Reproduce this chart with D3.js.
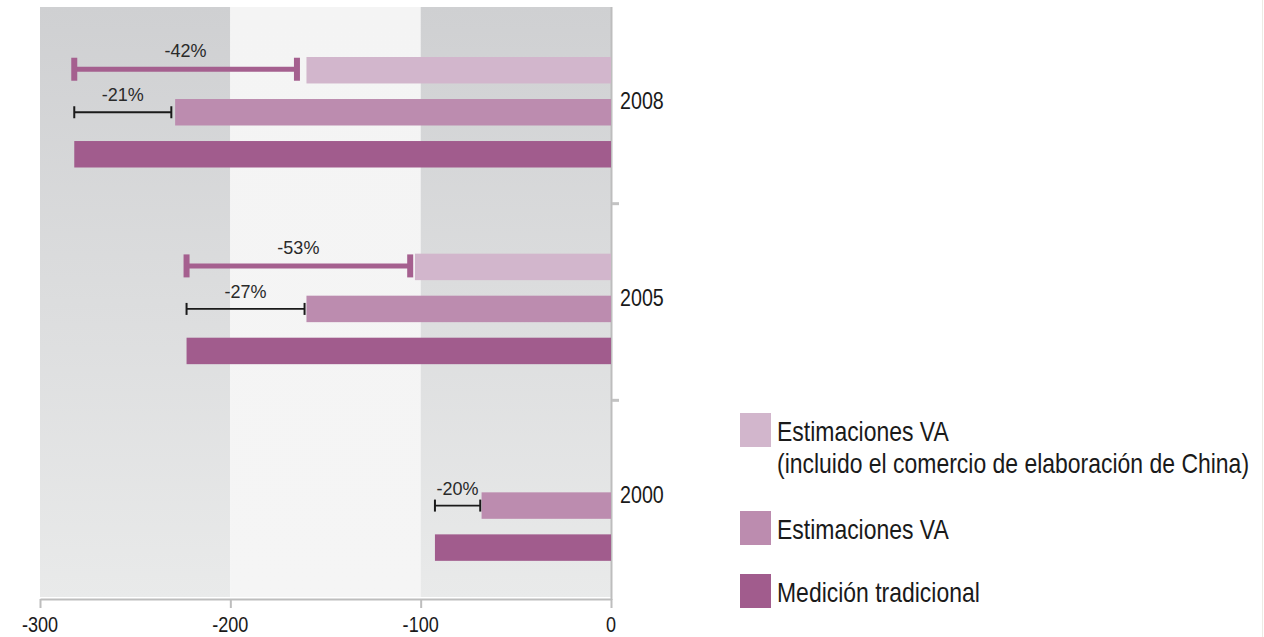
<!DOCTYPE html>
<html>
<head>
<meta charset="utf-8">
<script src="https://cdn.jsdelivr.net/npm/d3@7"></script>
<style>
  html, body { margin: 0; padding: 0; background: #ffffff; }
  svg { display: block; }
</style>
</head>
<body>
<svg id="chart" width="1264" height="637"></svg>
<script>
// ---------------- DATA ----------------
const years = ["2008", "2005", "2000"];
const seriesKeys = ["vaChina", "va", "traditional"];
const vaChina = [-160, -103, null];          // Estimaciones VA (incluido el comercio de elaboración de China)
const va = [-229, -160, -68];                // Estimaciones VA
const traditional = [-282, -223, -92.5];     // Medición tradicional
const vaChinaRangeEnd = [-165, -105.5, null];
const vaRangeEnd = [-231, -161, -68.7];
const vaChinaPct = ["-42%", "-53%", null];
const vaPct = ["-21%", "-27%", "-20%"];
const xTicks = [-300, -200, -100, 0];
const legendLabels = [
  ["Estimaciones VA", "(incluido el comercio de elaboración de China)"],
  ["Estimaciones VA"],
  ["Medición tradicional"]
];

// ---------------- STYLE ----------------
const colors = { vaChina: "#d2b6cc", va: "#bc8caf", traditional: "#a15c8d" };
const W = 1264, H = 637;
const plot = { left: 40, right: 611, top: 7, bottom: 597 };

// narrow font detection
const ctx = document.createElement("canvas").getContext("2d");
ctx.font = '28px "Liberation Sans Narrow", monospace';
const w1 = ctx.measureText("Estimaciones VA").width;
ctx.font = '28px monospace';
const w2 = ctx.measureText("Estimaciones VA").width;
const narrowOK = Math.abs(w1 - w2) > 0.5;

function narrowText(g, x, y, txt, size, anchor) {
  const t = g.append("text").text(txt)
    .attr("font-size", size)
    .attr("text-anchor", anchor || "start")
    .attr("fill", "#1a1a1a");
  if (narrowOK) {
    t.attr("font-family", '"Liberation Sans Narrow", "Arial Narrow", sans-serif')
     .attr("x", x).attr("y", y);
  } else {
    t.attr("font-family", '"Liberation Sans", Arial, sans-serif')
     .attr("transform", `translate(${x},${y}) scale(0.82,1)`);
  }
  return t;
}

const svg = d3.select("#chart");

// scales
const x = d3.scaleLinear().domain([-300, 0]).range([plot.left, plot.right]);
const yGroup = d3.scaleBand().domain(years).range([plot.top, plot.bottom]);
const yInner = d3.scaleBand().domain(seriesKeys).range([50, 50 + 110.5]).paddingInner(0.37);

// gradients
const defs = svg.append("defs");
const gGray = defs.append("linearGradient").attr("id", "gray").attr("x1", 0).attr("y1", 0).attr("x2", 0).attr("y2", 1);
gGray.append("stop").attr("offset", "0%").attr("stop-color", "#cfd0d2");
gGray.append("stop").attr("offset", "100%").attr("stop-color", "#e9eaea");
const gLight = defs.append("linearGradient").attr("id", "light").attr("x1", 0).attr("y1", 0).attr("x2", 0).attr("y2", 1);
gLight.append("stop").attr("offset", "0%").attr("stop-color", "#f4f4f4");
gLight.append("stop").attr("offset", "100%").attr("stop-color", "#f5f5f5");

// background bands between ticks
const bands = d3.pairs(xTicks);
svg.append("g").selectAll("rect").data(bands).join("rect")
  .attr("x", d => x(d[0]))
  .attr("y", plot.top)
  .attr("width", d => x(d[1]) - x(d[0]))
  .attr("height", plot.bottom - plot.top)
  .attr("fill", (d, i) => i % 2 === 0 ? "url(#gray)" : "url(#light)");

// right border (y axis at 0)
svg.append("line")
  .attr("x1", x(0) + 0.5).attr("x2", x(0) + 0.5)
  .attr("y1", plot.top).attr("y2", plot.bottom + 3)
  .attr("stroke", "#bdbdbd").attr("stroke-width", 2);

// group separator ticks on right
const sepYs = years.slice(1).map(y => yGroup(y));
svg.append("g").selectAll("line").data(sepYs).join("line")
  .attr("x1", x(0) + 1).attr("x2", x(0) + 8)
  .attr("y1", d => d).attr("y2", d => d)
  .attr("stroke", "#c3c3c3").attr("stroke-width", 3);

// x axis
const xAxis = d3.axisBottom(x).tickValues(xTicks).tickSize(9).tickSizeOuter(0);
const ax = svg.append("g").attr("transform", `translate(0,${plot.bottom + 2})`).call(xAxis);
ax.select(".domain").attr("stroke", "#bdbdbd").attr("stroke-width", 2);
ax.selectAll(".tick line").attr("stroke", "#bdbdbd").attr("stroke-width", 2);
ax.selectAll(".tick text").remove();
xTicks.forEach(v => {
  narrowText(svg, x(v), 632, String(v), 22, "middle");
});

// bars
const rows = years.map((yr, i) => ({
  year: yr,
  vaChina: vaChina[i], va: va[i], traditional: traditional[i],
  vaChinaEnd: vaChinaRangeEnd[i], vaEnd: vaRangeEnd[i],
  vaChinaPct: vaChinaPct[i], vaPct: vaPct[i]
}));

const barData = [];
rows.forEach(r => seriesKeys.forEach(k => {
  if (r[k] != null) barData.push({ year: r.year, key: k, value: r[k] });
}));

svg.append("g").selectAll("rect").data(barData).join("rect")
  .attr("x", d => x(d.value))
  .attr("y", d => yGroup(d.year) + yInner(d.key))
  .attr("width", d => x(0) - x(d.value))
  .attr("height", yInner.bandwidth())
  .attr("fill", d => colors[d.key]);

// range indicators
const ann = svg.append("g");
rows.forEach(r => {
  // purple (vaChina)
  if (r.vaChina != null) {
    const cy = yGroup(r.year) + yInner("vaChina") + yInner.bandwidth() / 2 - 1;
    const x0 = x(r.traditional), x1 = x(r.vaChinaEnd);
    ann.append("line").attr("x1", x0).attr("x2", x1).attr("y1", cy).attr("y2", cy)
      .attr("stroke", "#a5608f").attr("stroke-width", 5);
    [x0, x1].forEach(xx => ann.append("rect")
      .attr("x", xx - 3).attr("y", cy - 11.5).attr("width", 6).attr("height", 23)
      .attr("fill", "#a5608f"));
    ann.append("text").text(r.vaChinaPct)
      .attr("x", (x0 + x1) / 2).attr("y", cy - 12)
      .attr("text-anchor", "middle")
      .attr("font-family", '"Liberation Sans", Arial, sans-serif')
      .attr("font-size", 18).attr("fill", "#2a2a2a");
  }
  // black (va)
  const cy2 = yGroup(r.year) + yInner("va") + yInner.bandwidth() / 2;
  const a0 = x(r.traditional), a1 = x(r.vaEnd);
  ann.append("line").attr("x1", a0).attr("x2", a1).attr("y1", cy2).attr("y2", cy2)
    .attr("stroke", "#1a1a1a").attr("stroke-width", 1.8);
  [a0, a1].forEach(xx => ann.append("line")
    .attr("x1", xx).attr("x2", xx).attr("y1", cy2 - 6).attr("y2", cy2 + 6)
    .attr("stroke", "#1a1a1a").attr("stroke-width", 2));
  ann.append("text").text(r.vaPct)
    .attr("x", (a0 + a1) / 2).attr("y", cy2 - 11)
    .attr("text-anchor", "middle")
    .attr("font-family", '"Liberation Sans", Arial, sans-serif')
    .attr("font-size", 18).attr("fill", "#2a2a2a");
});

// year labels
years.forEach(yr => {
  narrowText(svg, 620, yGroup(yr) + yGroup.bandwidth() / 2 + 4, yr, 24, "start");
});

// legend
const legendTop = [413, 511, 574];
const leg = svg.append("g");
seriesKeys.forEach((k, i) => {
  leg.append("rect").attr("x", 740).attr("y", legendTop[i]).attr("width", 31).attr("height", 34)
    .attr("fill", colors[k]);
  legendLabels[i].forEach((line, j) => {
    narrowText(leg, 777, legendTop[i] + 28 + j * 32, line, 28, "start");
  });
});

// faint right page edge
svg.append("line").attr("x1", 1262.5).attr("x2", 1262.5).attr("y1", 0).attr("y2", H)
  .attr("stroke", "#ecebe4").attr("stroke-width", 1);
</script>
</body>
</html>
